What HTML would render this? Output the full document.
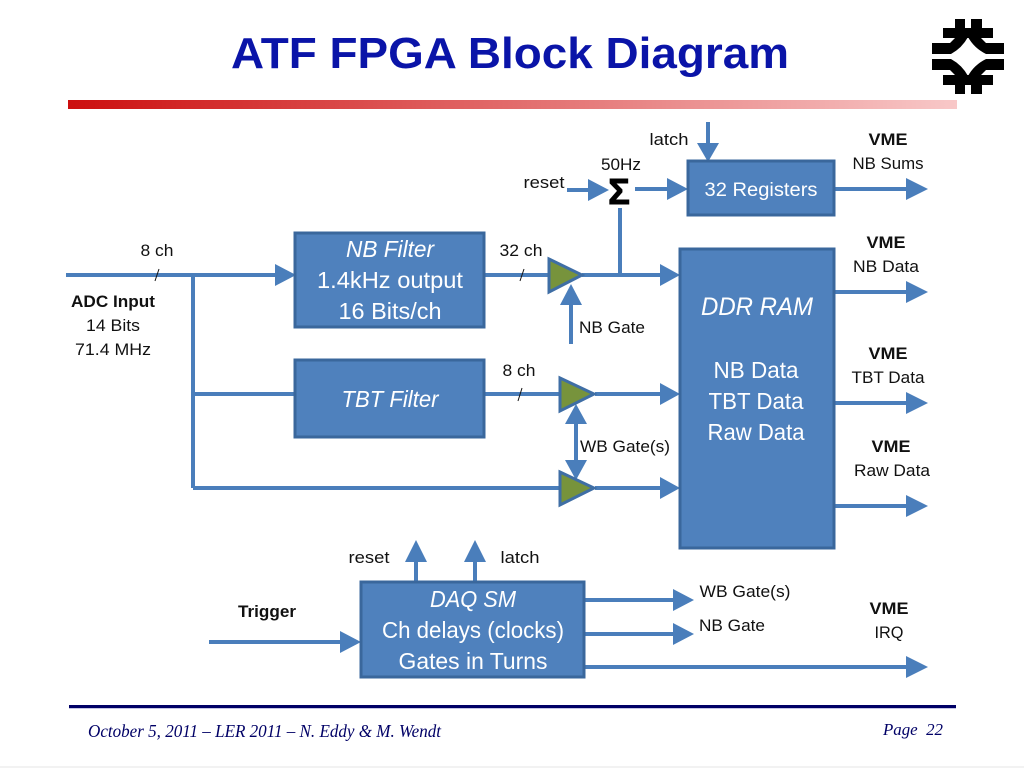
<!DOCTYPE html>
<html><head><meta charset="utf-8"><style>
html,body{margin:0;padding:0;background:#fff}
svg{display:block}
text{font-family:"Liberation Sans",sans-serif;fill:#111}
.w{fill:#fff;font-size:23px}
.s{font-size:17px}
.b{font-weight:bold}
</style></head><body>
<svg width="1024" height="768" viewBox="0 0 1024 768" xmlns="http://www.w3.org/2000/svg">
<defs><linearGradient id="g" x1="0" x2="1" y1="0" y2="0"><stop offset="0" stop-color="#cc0f0f"/><stop offset="1" stop-color="#f8c8c8"/></linearGradient></defs>
<rect x="0" y="766" width="1024" height="2" fill="#f2f2f2"/>
<text x="510" y="68" text-anchor="middle" font-size="44" font-weight="bold" style="fill:#0a14a8" textLength="558" lengthAdjust="spacingAndGlyphs">ATF FPGA Block Diagram</text>
<rect x="68" y="100" width="889" height="9" fill="url(#g)"/>
<!-- logo -->
<g fill="#000">
<rect x="943" y="28" width="50" height="10"/><rect x="955" y="19" width="10" height="19"/><rect x="971" y="19" width="11" height="19"/>
<path d="M932 43H950L955 38H981L986 43H1004V54H986Q974 48 968 37Q962 48 951 54H932Z"/>
<rect x="943" y="75" width="50" height="10"/><rect x="955" y="75" width="10" height="19"/><rect x="971" y="75" width="11" height="19"/>
<path d="M932 70H950L955 75H981L986 70H1004V59H986Q974 65 968 76Q962 65 951 59H932Z"/>
</g>
<!-- connectors -->
<g stroke="#4a7ebb" stroke-width="4" fill="none">
<path d="M66 275H280"/><path d="M193 275V488"/><path d="M193 394H296"/><path d="M193 488H560"/>
<path d="M484 275H550"/><path d="M582 275H660"/><path d="M620 275V208"/>
<path d="M484 394H560"/><path d="M595 394H660"/><path d="M595 488H660"/>
<path d="M567 190H590"/><path d="M635 189H670"/><path d="M708 122V145"/>
<path d="M571 300V344"/><path d="M576 420V470"/>
<path d="M833 189H908"/><path d="M833 292H908"/><path d="M833 403H908"/><path d="M833 506H908"/>
<path d="M416 582V560"/><path d="M475 582V560"/>
<path d="M209 642H342"/><path d="M584 600H675"/><path d="M584 634H675"/><path d="M584 667H908"/>
</g>
<g fill="#4a7ebb">
<polygon points="275,264 296,275 275,286"/>
<polygon points="660,264 680,275 660,286"/>
<polygon points="660,383 680,394 660,405"/>
<polygon points="660,477 680,488 660,499"/>
<polygon points="588,179 609,190 588,201"/>
<polygon points="667,178 688,189 667,200"/>
<polygon points="697,143 719,143 708,162"/>
<polygon points="560,305 582,305 571,284"/>
<polygon points="565,424 587,424 576,404"/>
<polygon points="565,460 587,460 576,480"/>
<polygon points="906,178 928,189 906,200"/>
<polygon points="906,281 928,292 906,303"/>
<polygon points="906,392 928,403 906,414"/>
<polygon points="906,495 928,506 906,517"/>
<polygon points="405,562 427,562 416,540"/>
<polygon points="464,562 486,562 475,540"/>
<polygon points="340,631 361,642 340,653"/>
<polygon points="673,589 694,600 673,611"/>
<polygon points="673,623 694,634 673,645"/>
<polygon points="906,656 928,667 906,678"/>
</g>
<!-- gates -->
<g fill="#77933c" stroke="#3f6ea5" stroke-width="3">
<polygon points="549,259 582,275 549,292"/>
<polygon points="560,378 594,394 560,411"/>
<polygon points="560,472 594,488 560,505"/>
</g>
<!-- boxes -->
<g fill="#4f81bd" stroke="#3a679c" stroke-width="3">
<rect x="295" y="233" width="189" height="94"/>
<rect x="295" y="360" width="189" height="77"/>
<rect x="688" y="161" width="146" height="54"/>
<rect x="680" y="249" width="154" height="299"/>
<rect x="361" y="582" width="223" height="95"/>
</g>
<!-- slashes -->
<g stroke="#111" stroke-width="1"><path d="M159 269L155 281"/><path d="M524 269L520 281"/><path d="M522 388L518 401"/></g>
<!-- box text -->
<g class="w" text-anchor="middle">
<text class="w" x="390" y="257" font-style="italic" textLength="88" lengthAdjust="spacingAndGlyphs">NB Filter</text>
<text class="w" x="390" y="288" textLength="146" lengthAdjust="spacingAndGlyphs">1.4kHz output</text>
<text class="w" x="390" y="319" textLength="103" lengthAdjust="spacingAndGlyphs">16 Bits/ch</text>
<text class="w" x="390" y="407" font-style="italic" textLength="97" lengthAdjust="spacingAndGlyphs">TBT Filter</text>
<text class="w" x="761" y="196" style="font-size:19px" textLength="113" lengthAdjust="spacingAndGlyphs">32 Registers</text>
<text class="w" x="757" y="315" style="font-size:25px" font-style="italic" textLength="112" lengthAdjust="spacingAndGlyphs">DDR RAM</text>
<text class="w" x="756" y="378" textLength="85" lengthAdjust="spacingAndGlyphs">NB Data</text>
<text class="w" x="756" y="409" textLength="95" lengthAdjust="spacingAndGlyphs">TBT Data</text>
<text class="w" x="756" y="440" textLength="97" lengthAdjust="spacingAndGlyphs">Raw Data</text>
<text class="w" x="473" y="607" font-style="italic" textLength="86" lengthAdjust="spacingAndGlyphs">DAQ SM</text>
<text class="w" x="473" y="638" textLength="182" lengthAdjust="spacingAndGlyphs">Ch delays (clocks)</text>
<text class="w" x="473" y="669" textLength="149" lengthAdjust="spacingAndGlyphs">Gates in Turns</text>
</g>
<!-- labels -->
<g class="s" text-anchor="middle">
<text class="s" x="157" y="256" textLength="33" lengthAdjust="spacingAndGlyphs">8 ch</text>
<text class="s b" x="113" y="307" textLength="84" lengthAdjust="spacingAndGlyphs">ADC Input</text>
<text class="s" x="113" y="331" textLength="54" lengthAdjust="spacingAndGlyphs">14 Bits</text>
<text class="s" x="113" y="355" textLength="76" lengthAdjust="spacingAndGlyphs">71.4 MHz</text>
<text class="s" x="521" y="256" textLength="43" lengthAdjust="spacingAndGlyphs">32 ch</text>
<text class="s" x="519" y="376" textLength="33" lengthAdjust="spacingAndGlyphs">8 ch</text>
<text class="s" x="612" y="333" textLength="66" lengthAdjust="spacingAndGlyphs">NB Gate</text>
<text class="s" x="625" y="452" textLength="90" lengthAdjust="spacingAndGlyphs">WB Gate(s)</text>
<text class="s" x="669" y="145" textLength="39" lengthAdjust="spacingAndGlyphs">latch</text>
<text class="s" x="621" y="170" textLength="40" lengthAdjust="spacingAndGlyphs">50Hz</text>
<text class="s" x="544" y="188" textLength="41" lengthAdjust="spacingAndGlyphs">reset</text>
<text x="619" y="204" text-anchor="middle" font-size="36" font-weight="bold" stroke="#000" stroke-width="1" style="fill:#000">Σ</text>
<text class="s b" x="888" y="145" textLength="39" lengthAdjust="spacingAndGlyphs">VME</text>
<text class="s" x="888" y="169" textLength="71" lengthAdjust="spacingAndGlyphs">NB Sums</text>
<text class="s b" x="886" y="248" textLength="39" lengthAdjust="spacingAndGlyphs">VME</text>
<text class="s" x="886" y="272" textLength="66" lengthAdjust="spacingAndGlyphs">NB Data</text>
<text class="s b" x="888" y="359" textLength="39" lengthAdjust="spacingAndGlyphs">VME</text>
<text class="s" x="888" y="383" textLength="73" lengthAdjust="spacingAndGlyphs">TBT Data</text>
<text class="s b" x="891" y="452" textLength="39" lengthAdjust="spacingAndGlyphs">VME</text>
<text class="s" x="892" y="476" textLength="76" lengthAdjust="spacingAndGlyphs">Raw Data</text>
<text class="s" x="369" y="563" textLength="41" lengthAdjust="spacingAndGlyphs">reset</text>
<text class="s" x="520" y="563" textLength="39" lengthAdjust="spacingAndGlyphs">latch</text>
<text class="s b" x="267" y="617" textLength="58" lengthAdjust="spacingAndGlyphs">Trigger</text>
<text class="s" x="745" y="597" textLength="91" lengthAdjust="spacingAndGlyphs">WB Gate(s)</text>
<text class="s" x="732" y="631" textLength="66" lengthAdjust="spacingAndGlyphs">NB Gate</text>
<text class="s b" x="889" y="614" textLength="39" lengthAdjust="spacingAndGlyphs">VME</text>
<text class="s" x="889" y="638" textLength="29" lengthAdjust="spacingAndGlyphs">IRQ</text>
</g>
<!-- footer -->
<rect x="69" y="705" width="887" height="3" fill="#000066"/>
<rect x="69" y="708" width="887" height="1" fill="#c4c4e4"/>
<text x="88" y="737" font-size="17.5" font-style="italic" style="font-family:'Liberation Serif',serif;fill:#000066" textLength="353" lengthAdjust="spacingAndGlyphs">October 5, 2011 – LER 2011 – N. Eddy &amp; M. Wendt</text>
<text x="883" y="735" font-size="17" font-style="italic" style="font-family:'Liberation Serif',serif;fill:#000066" textLength="60" lengthAdjust="spacingAndGlyphs" xml:space="preserve">Page  22</text>
</svg>
</body></html>
